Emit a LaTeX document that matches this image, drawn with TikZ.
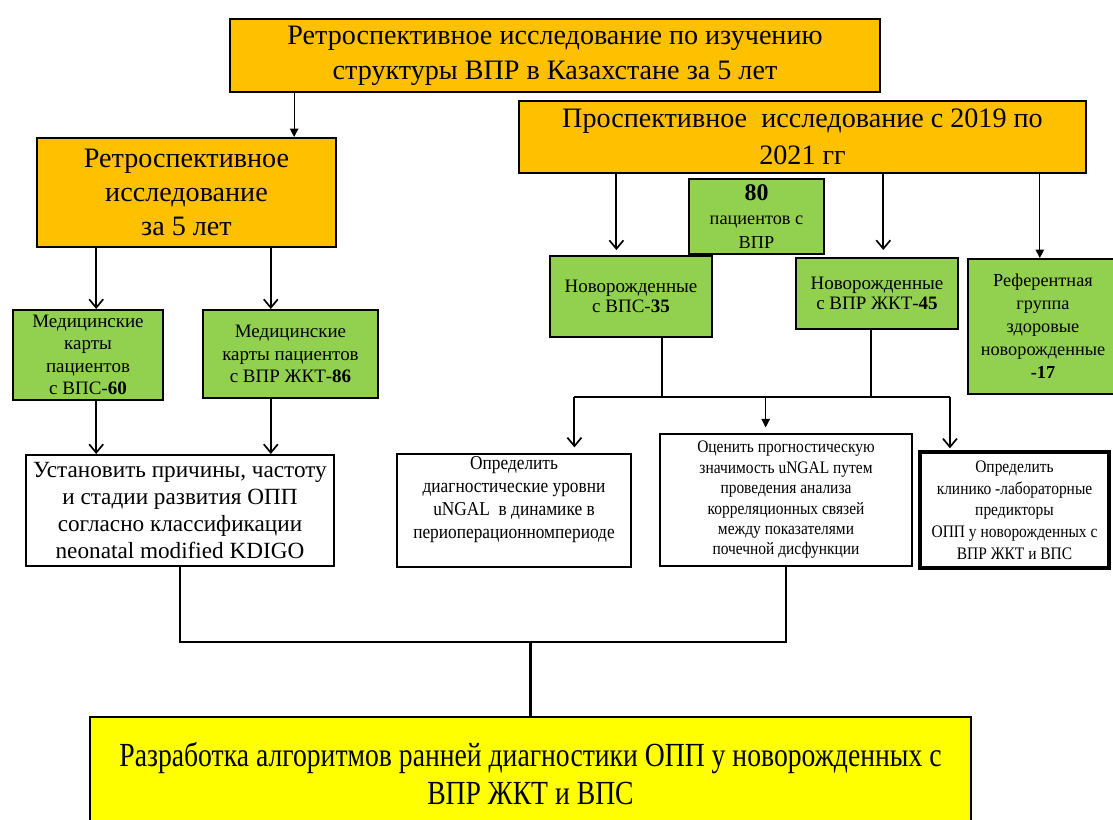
\documentclass[tikz,border=0pt]{standalone}
\usepackage{fontspec}
\setmainfont{Liberation Serif}
\newfontfamily\narrowfont[FakeStretch=0.88]{Liberation Serif}
\newfontfamily\tallfont[FakeStretch=0.82]{Liberation Serif}
\usetikzlibrary{arrows.meta,calc}

\definecolor{boxgold}{HTML}{FFC000}
\definecolor{boxgreen}{HTML}{92D050}
\definecolor{boxyellow}{HTML}{FFFF00}

\tikzset{
  box/.style={draw=black,line width=1.4pt,rectangle,inner sep=1pt,align=center},
  goldbox/.style={box,fill=boxgold,font=\fontsize{20}{25}\selectfont},
  greenbox/.style={box,fill=boxgreen,font=\fontsize{13.5}{16}\selectfont},
  whitebox/.style={box,fill=white},
  narrowbox/.style={box,fill=white,font=\narrowfont\fontsize{14}{15.5}\selectfont},
  openarr/.style={line width=1.4pt,-{Straight Barb[length=6pt,width=10pt,line width=1.2pt]}},
  fillarr/.style={line width=0.8pt,-{Triangle[length=6pt,width=6pt]}},
  link/.style={line width=1.4pt}
}

\begin{document}
\begin{tikzpicture}[x=0.025cm,y=-0.025cm]
\useasboundingbox (0,0) rectangle (1113,820);
\clip (0,0) rectangle (1113,820);

% upper level
\node[goldbox,minimum width=16.25cm,minimum height=1.825cm] (top) at (555,55.5)
  {Ретроспективное исследование по изучению\\структуры ВПР в Казахстане за 5 лет};
\node[goldbox,font=\fontsize{20}{26}\selectfont,minimum width=14.175cm,minimum height=1.8cm] (proso) at (802.5,137)
  {Проспективное~ исследование с 2019 по\\2021 гг};
\node[goldbox,font=\fontsize{20}{24}\selectfont,minimum width=7.475cm,minimum height=2.725cm] (retro) at (186.5,192.5)
  {Ретроспективное\\исследование\\за 5 лет};

% retrospective branch
\node[greenbox,minimum width=3.75cm,minimum height=2.25cm] (vps60) at (88,355)
  {Медицинские\\карты\\пациентов\\с ВПС-\textbf{60}};
\node[greenbox,minimum width=4.375cm,minimum height=2.2cm] (vpr86) at (290.5,354)
  {Медицинские\\карты пациентов\\с ВПР ЖКТ-\textbf{86}};
\node[whitebox,font=\fontsize{16.5}{19}\selectfont,minimum width=7.7cm,minimum height=2.775cm] (ustan) at (180,510.5)
  {Установить причины, частоту\\и стадии развития ОПП\\согласно классификации\\neonatal modified KDIGO};

% prospective branch
\node[greenbox,font=\fontsize{13}{17}\selectfont,minimum width=3.375cm,minimum height=1.875cm] (n80) at (756.5,216.5)
  {{\fontsize{17}{17}\selectfont\textbf{80}}\\пациентов с\\ВПР};
\node[greenbox,font=\fontsize{13.5}{14.5}\selectfont,minimum width=4.05cm,minimum height=2.025cm] (vps35) at (631,296.5)
  {Новорожденные\\с ВПС-\textbf{35}};
\node[greenbox,font=\fontsize{13.5}{14.5}\selectfont,minimum width=4.05cm,minimum height=1.775cm] (vpr45) at (877,293.5)
  {Новорожденные\\с ВПР ЖКТ-\textbf{45}};
\node[greenbox,font=\fontsize{13}{16.3}\selectfont,minimum width=3.75cm,minimum height=3.375cm] (refgr) at (1043,326.5)
  {Референтная\\группа\\здоровые\\новорожденные\\\textbf{-17}};

% tasks
\node[narrowbox,minimum width=5.85cm,minimum height=2.825cm] (opr1) at (514,510.5)
  {Определить\\[1pt]диагностические уровни\\[1pt]uNGAL~ в динамике в\\[1pt]периоперационномпериоде\\[3pt]};
\node[narrowbox,font=\narrowfont\fontsize{12.5}{14.5}\selectfont,minimum width=6.3cm,minimum height=3.3cm] (ocen) at (786,500)
  {Оценить прогностическую\\значимость uNGAL путем\\проведения анализа\\корреляционных связей\\между показателями\\почечной дисфункции};
\node[narrowbox,line width=2.2pt,font=\narrowfont\fontsize{12.5}{15.4}\selectfont,minimum width=4.725cm,minimum height=2.9cm] (opr2) at (1014.5,510)
  {Определить\\клинико -лабораторные\\предикторы\\ОПП у новорожденных с\\ВПР ЖКТ и ВПС};

% result
\node[box,fill=boxyellow,font=\tallfont\fontsize{24}{27}\selectfont,minimum width=22.025cm,minimum height=2.825cm] (razr) at (530.5,773.5)
  {Разработка алгоритмов ранней диагностики ОПП у новорожденных с\\ВПР ЖКТ и ВПС};

% connectors, left part
\coordinate (t1) at ($(top.south west)!0.1!(top.south east)$);
\draw[fillarr] (t1) -- (t1 |- retro.north);
\coordinate (r1) at ($(retro.south west)!0.2!(retro.south east)$);
\coordinate (r2) at ($(retro.south west)!0.78!(retro.south east)$);
\draw[openarr] (r1) -- (r1 |- vps60.north);
\draw[openarr] (r2) -- (r2 |- vpr86.north);
\draw[openarr] (r1 |- vps60.south) -- (r1 |- ustan.north);
\draw[openarr] (r2 |- vpr86.south) -- (r2 |- ustan.north);

% connectors, right part
\coordinate (p1) at ($(proso.south west)!0.173!(proso.south east)$);
\coordinate (p2) at ($(proso.south west)!0.642!(proso.south east)$);
\coordinate (p3) at ($(proso.south west)!0.917!(proso.south east)$);
\draw[openarr,shorten >=3.5pt] (p1) -- (p1 |- vps35.north);
\draw[openarr,shorten >=5pt] (p2) -- (p2 |- vpr45.north);
\draw[fillarr] (p3) -- (p3 |- refgr.north);

\coordinate (bus) at (0,397);
\coordinate (b1) at ($(vps35.south west)!0.69!(vps35.south east)$);
\coordinate (b2) at ($(vpr45.south west)!0.463!(vpr45.south east)$);
\draw[link] (b1) -- (b1 |- bus) -| (b2);
\coordinate (q1) at ($(opr1.north west)!0.756!(opr1.north east)$);
\coordinate (q2) at ($(ocen.north west)!0.42!(ocen.north east)$);
\coordinate (q3) at ($(opr2.north west)!0.164!(opr2.north east)$);
\draw[link] (q1 |- bus) -- (q3 |- bus);
\draw[openarr,shorten >=4pt] (q1 |- bus) -- (q1);
\draw[openarr,shorten >=1.5pt] (q3 |- bus) -- (q3);
\draw[fillarr,shorten >=4pt] (q2 |- bus) -- (q2);

% to the result
\coordinate (bus2) at (0,642);
\draw[link] (ustan.south) -- (ustan.south |- bus2) -| (ocen.south);
\draw[line width=2.2pt] (razr.north |- bus2) -- (razr.north);
\end{tikzpicture}
\end{document}
